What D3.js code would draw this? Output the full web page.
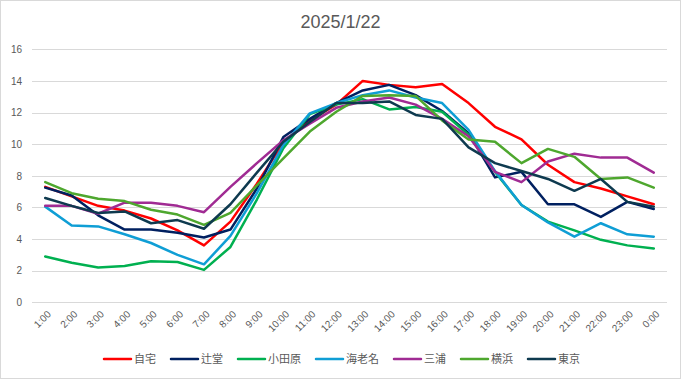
<!DOCTYPE html>
<html>
<head>
<meta charset="utf-8">
<script src="https://cdn.jsdelivr.net/npm/d3@7"></script>
<style>
  html, body { margin: 0; padding: 0; background: #fff; }
  svg { display: block; }
</style>
</head>
<body>
<svg id="chart" width="681" height="379"></svg>
<script>
const title = "2025/1/22";
const hours = ["1:00","2:00","3:00","4:00","5:00","6:00","7:00","8:00","9:00","10:00","11:00","12:00",
               "13:00","14:00","15:00","16:00","17:00","18:00","19:00","20:00","21:00","22:00","23:00","0:00"];
const yTicks = [0, 2, 4, 6, 8, 10, 12, 14, 16];
const seriesNames = ["自宅", "辻堂", "小田原", "海老名", "三浦", "横浜", "東京"];
const seriesColors = ["#ff0000", "#002060", "#00b050", "#0f9ed5", "#a02b93", "#4ea72e", "#0e3a4f"];

const jitaku   = [7.3, 6.7, 6.1, 5.8, 5.3, 4.55, 3.6, 5.1, 7.5, 10.1, 11.5, 12.5, 14.0, 13.75, 13.6, 13.8, 12.6, 11.1, 10.3, 8.7, 7.6, 7.2, 6.7, 6.2];
const tsujido  = [7.25, 6.75, 5.5, 4.6, 4.6, 4.4, 4.1, 4.6, 7.2, 10.45, 11.6, 12.6, 13.4, 13.75, 13.1, 12.1, 10.7, 7.9, 8.25, 6.2, 6.2, 5.4, 6.35, 5.9];
const odawara  = [2.9, 2.5, 2.2, 2.3, 2.6, 2.55, 2.05, 3.5, 6.5, 9.75, 11.9, 12.5, 12.85, 12.2, 12.35, 12.05, 10.6, 8.25, 6.15, 5.1, 4.55, 3.95, 3.6, 3.4];
const ebina    = [6.05, 4.85, 4.8, 4.3, 3.75, 3.0, 2.4, 4.2, 6.9, 9.95, 11.95, 12.6, 13.1, 13.4, 12.95, 12.6, 10.9, 8.3, 6.15, 5.05, 4.15, 5.0, 4.3, 4.15];
const miura    = [6.1, 6.1, 5.6, 6.3, 6.3, 6.1, 5.7, 7.3, 8.8, 10.25, 11.3, 12.3, 12.7, 12.95, 12.5, 11.6, 10.5, 8.25, 7.6, 8.9, 9.4, 9.15, 9.15, 8.2];
const yokohama = [7.6, 6.9, 6.55, 6.4, 5.85, 5.55, 4.9, 5.65, 7.4, 9.1, 10.8, 12.05, 13.05, 13.1, 13.05, 11.5, 10.3, 10.15, 8.8, 9.7, 9.2, 7.8, 7.9, 7.25];
const tokyo    = [6.6, 6.1, 5.65, 5.75, 5.0, 5.2, 4.65, 6.2, 8.2, 10.15, 11.4, 12.6, 12.6, 12.7, 11.85, 11.6, 9.8, 8.8, 8.3, 7.8, 7.05, 7.8, 6.35, 6.05];

const seriesValues = [jitaku, tsujido, odawara, ebina, miura, yokohama, tokyo];

const W = 681, H = 379;
const plot = { left: 32, right: 667, top: 49.3, bottom: 302.3 };
const textColor = "#595959";
const jpFont = "'Noto Sans CJK JP', 'Noto Sans', sans-serif";
const latinFont = "'Liberation Sans', Arial, sans-serif";

const svg = d3.select("#chart");

// outer border
svg.append("rect").attr("x", 0.5).attr("y", 0.5).attr("width", W - 1).attr("height", H - 1)
  .attr("fill", "#fff").attr("stroke", "#d9d9d9");

const x = d3.scaleBand().domain(hours).range([plot.left, plot.right]);
const y = d3.scaleLinear().domain([0, 16]).range([plot.bottom, plot.top]);

// title
svg.append("text").attr("x", 340.5).attr("y", 28).attr("text-anchor", "middle")
  .attr("font-family", latinFont).attr("font-size", 18).attr("fill", textColor).text(title);

// gridlines
svg.append("g").selectAll("line").data(yTicks).join("line")
  .attr("x1", plot.left).attr("x2", plot.right)
  .attr("y1", d => Math.round(y(d)) + 0.5).attr("y2", d => Math.round(y(d)) + 0.5)
  .attr("stroke", "#d9d9d9").attr("stroke-width", 1);

// y axis
const yAxis = d3.axisLeft(y).tickValues(yTicks).tickSize(0).tickPadding(0);
const gy = svg.append("g").attr("transform", `translate(22,0)`).call(yAxis);
gy.select(".domain").remove();
gy.selectAll("text").attr("font-family", latinFont).attr("font-size", 10).attr("fill", textColor);

// x axis
const xAxis = d3.axisBottom(x).tickSize(0).tickPadding(0);
const gx = svg.append("g").attr("transform", `translate(0,${plot.bottom})`).call(xAxis);
gx.select(".domain").remove();
gx.selectAll("text")
  .attr("font-family", latinFont).attr("font-size", 10).attr("fill", textColor)
  .attr("text-anchor", "end")
  .attr("dy", "0.35em")
  .attr("transform", "translate(4,10) rotate(-45)");

// lines
const line = d3.line()
  .x((d, i) => x(hours[i]) + x.bandwidth() / 2)
  .y(d => y(d));

svg.append("g").selectAll("path").data(seriesValues).join("path")
  .attr("d", d => line(d))
  .attr("fill", "none")
  .attr("stroke", (d, i) => seriesColors[i])
  .attr("stroke-width", 2.5)
  .attr("stroke-linejoin", "round")
  .attr("stroke-linecap", "round");

// legend
const legend = svg.append("g");
const lineLen = 27, gapText = 3, gapItem = 15, fontSize = 11;
const items = legend.selectAll("g").data(seriesNames).join("g");
items.append("line").attr("x1", 0).attr("x2", lineLen).attr("y1", 0).attr("y2", 0)
  .attr("stroke", (d, i) => seriesColors[i]).attr("stroke-width", 2.5).attr("stroke-linecap", "round");
items.append("text").attr("x", lineLen + gapText).attr("y", 0).attr("dy", "0.36em")
  .attr("font-family", jpFont).attr("font-size", fontSize).attr("fill", textColor)
  .text(d => d);
let offsets = [], cur = 0;
items.each(function() {
  offsets.push(cur);
  const tw = this.querySelector("text").getComputedTextLength();
  cur += lineLen + gapText + tw + gapItem;
});
const total = cur - gapItem;
const startX = 342 - total / 2;
items.attr("transform", (d, i) => `translate(${startX + offsets[i]},359)`);
</script>
</body>
</html>
